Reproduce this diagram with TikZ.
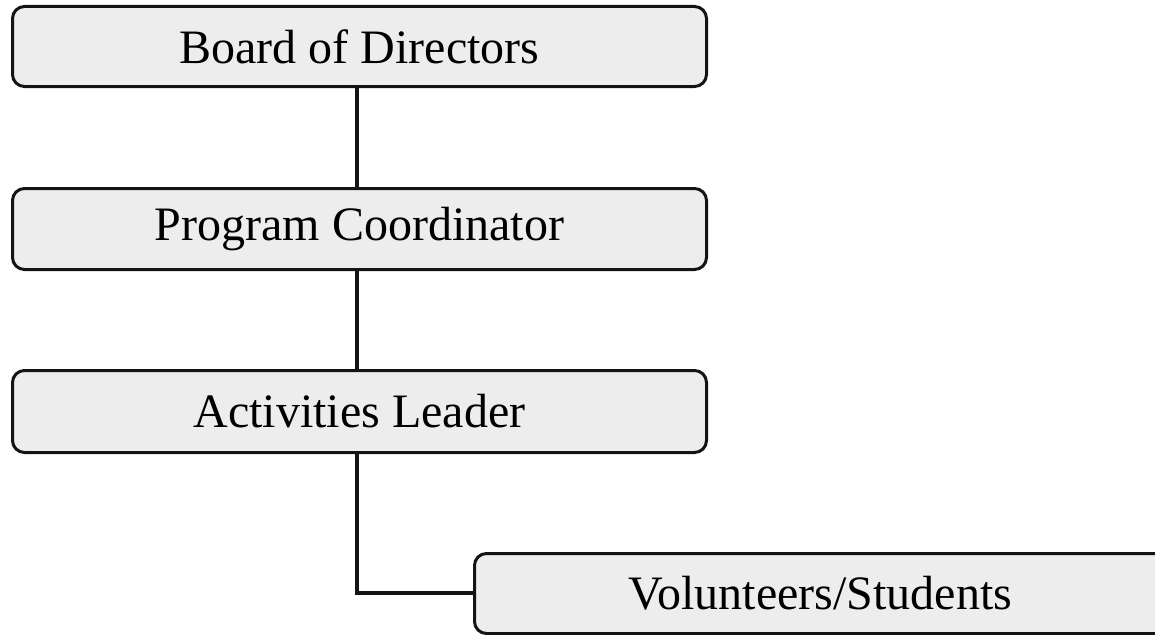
\documentclass[tikz,border=0pt]{standalone}
\usepackage{fontspec}
\setmainfont{Liberation Serif}
\begin{document}
\begin{tikzpicture}[x=1pt,y=-1pt,
  orgbox/.style={draw=black!92, line width=3pt, rounded corners=12pt, fill=black!7, inner sep=0pt,
    font=\fontsize{48}{50}\selectfont, anchor=north west},
  conn/.style={draw=black!92, line width=4.6pt}]
\useasboundingbox (0,0) rectangle (1155,634);
\clip (0,0) rectangle (1155,634);
\node[orgbox, minimum width=694pt, minimum height=80pt] (bod) at (11,5) {Board of Directors};
\node[orgbox, minimum width=694pt, minimum height=81pt] (pc) at (11,187) {Program Coordinator};
\node[orgbox, minimum width=694pt, minimum height=82pt] (al) at (11,369) {Activities Leader};
\node[orgbox, minimum width=692pt, minimum height=80pt] (vs) at (473,552) {Volunteers/Students};
\coordinate (corner) at (357,593);
\draw[conn] (bod.south -| corner) -- (pc.north -| corner);
\draw[conn] (pc.south -| corner) -- (al.north -| corner);
\draw[conn] (al.south -| corner) -- (corner) -- (vs.west |- corner);
\end{tikzpicture}
\end{document}
